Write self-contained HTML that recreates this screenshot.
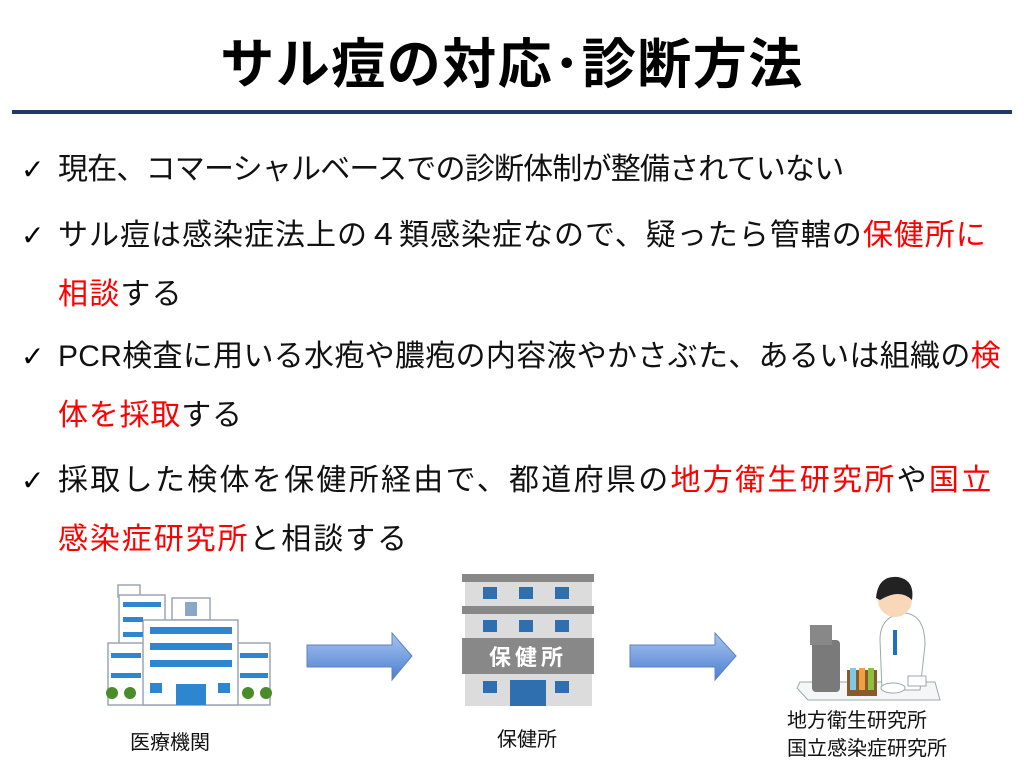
<!DOCTYPE html>
<html><head><meta charset="utf-8"><style>
body{margin:0;width:1024px;height:768px;background:#fff;position:relative;overflow:hidden;font-family:"Liberation Sans","Noto Sans CJK JP",sans-serif;}
h1{position:absolute;left:0;width:1024px;top:29px;margin:0;text-align:center;font-size:54px;letter-spacing:1.5px;font-weight:bold;line-height:72px;font-family:"Liberation Sans","Noto Sans CJK JP",sans-serif;}
.rule{position:absolute;left:12px;width:1000px;top:110px;height:4px;background:#1f3a68;}
.l{position:absolute;left:58px;font-size:30px;line-height:40px;white-space:nowrap;color:#111;}
.c{position:absolute;left:21px;font-size:28px;line-height:40px;font-weight:bold;font-family:"DejaVu Sans",sans-serif;}
.r{color:#f00;}
.lab{position:absolute;font-size:20px;line-height:26px;white-space:nowrap;color:#111;}
</style></head><body>
<h1>サル痘の対応･診断方法</h1>
<div class="rule"></div>
<div class="c" style="top:150px">✓</div><div class="l" style="top:150px;letter-spacing:-0.8px">現在、コマーシャルベースでの診断体制が整備されていない</div>
<div class="c" style="top:216px">✓</div><div class="l" style="top:216px;letter-spacing:1px">サル痘は感染症法上の４類感染症なので、疑ったら管轄の<span class="r">保健所に</span></div>
<div class="l" style="top:275px;letter-spacing:1.2px"><span class="r">相談</span>する</div>
<div class="c" style="top:337px">✓</div><div class="l" style="top:337px;letter-spacing:0.3px">PCR検査に用いる水疱や膿疱の内容液やかさぶた、あるいは組織の<span class="r">検</span></div>
<div class="l" style="top:396px;letter-spacing:0.8px"><span class="r">体を採取</span>する</div>
<div class="c" style="top:461px">✓</div><div class="l" style="top:461px;letter-spacing:2.3px">採取した検体を保健所経由で、都道府県の<span class="r">地方衛生研究所</span>や<span class="r">国立</span></div>
<div class="l" style="top:520px;letter-spacing:1.9px"><span class="r">感染症研究所</span>と相談する</div>

<svg width="1024" height="768" style="position:absolute;left:0;top:0">
<defs><linearGradient id="g" x1="0" y1="0" x2="0" y2="1"><stop offset="0" stop-color="#a9c4ef"/><stop offset="1" stop-color="#4a7fd0"/></linearGradient></defs>
<!-- hospital -->
<g stroke="#9aa5b5" stroke-width="1.5" fill="#fff">
<rect x="118" y="585" width="22" height="12"/>
<rect x="119" y="595" width="46" height="55"/>
<rect x="172" y="598" width="38" height="22"/>
<rect x="108" y="643" width="162" height="62"/>
<rect x="143" y="620" width="95" height="85"/>
</g>
<rect x="185" y="602" width="12" height="14" fill="#8aa6c8"/>
<g fill="#2f86d0">
<rect x="123" y="602" width="38" height="5"/><rect x="123" y="617" width="20" height="5"/><rect x="123" y="632" width="20" height="5"/>
<rect x="150" y="627" width="82" height="7"/><rect x="150" y="643" width="82" height="7"/><rect x="150" y="660" width="82" height="7"/>
<rect x="111" y="653" width="30" height="5"/><rect x="111" y="673" width="30" height="5"/>
<rect x="240" y="653" width="28" height="5"/><rect x="240" y="673" width="28" height="5"/>
<rect x="150" y="683" width="12" height="10"/><rect x="218" y="683" width="12" height="10"/>
<rect x="176" y="684" width="30" height="21"/>
</g>
<g fill="#4a8c2a"><circle cx="112" cy="693" r="6"/><circle cx="130" cy="693" r="6"/><circle cx="248" cy="693" r="6"/><circle cx="266" cy="693" r="6"/></g>
<!-- arrows -->
<path d="M307 645 H392 V633 L412 656 L392 680 V667 H307 Z" fill="url(#g)" stroke="#5b84c4"/>
<path d="M630 645 H715 V633 L736 656 L715 680 V667 H630 Z" fill="url(#g)" stroke="#5b84c4"/>
<!-- health center -->
<rect x="465" y="578" width="127" height="128" fill="#dcdcdc"/>
<rect x="462" y="574" width="132" height="8" fill="#888"/>
<rect x="462" y="606" width="132" height="8" fill="#888"/>
<rect x="462" y="638" width="132" height="36" fill="#888"/>
<text x="528" y="665" font-size="22" font-weight="bold" fill="#fff" text-anchor="middle" font-family="Liberation Sans,Noto Sans CJK JP,sans-serif" letter-spacing="4">保健所</text>
<g fill="#2f6fb0">
<rect x="483" y="587" width="14" height="12"/><rect x="519" y="587" width="14" height="12"/><rect x="555" y="587" width="14" height="12"/>
<rect x="483" y="620" width="14" height="12"/><rect x="519" y="620" width="14" height="12"/><rect x="555" y="620" width="14" height="12"/>
<rect x="483" y="681" width="14" height="12"/><rect x="555" y="681" width="14" height="12"/>
<rect x="510" y="680" width="36" height="26"/>
</g>
<!-- lab -->
<path d="M797 688 L808 700 H940 L935 682 H800 Z" fill="#f4f6f8" stroke="#9aa" />
<rect x="812" y="640" width="28" height="52" rx="4" fill="#7a7a7a"/>
<rect x="810" y="625" width="22" height="20" fill="#888"/>
<rect x="847" y="670" width="30" height="26" fill="#8a5a2a"/>
<rect x="850" y="668" width="6" height="22" fill="#7fc8e8"/><rect x="859" y="668" width="6" height="22" fill="#f0a040"/><rect x="868" y="668" width="6" height="22" fill="#8cc040"/>
<path d="M880 640 Q880 615 905 613 Q925 615 925 645 L920 690 H882 Z" fill="#fff" stroke="#9aa"/>
<circle cx="895" cy="600" r="17" fill="#f8d8b8"/>
<path d="M876 598 Q878 575 898 577 Q915 580 912 600 Q900 588 880 600 Z" fill="#222"/>
<rect x="893" y="630" width="4" height="25" fill="#2070c0"/>
<ellipse cx="893" cy="688" rx="12" ry="5" fill="#fff" stroke="#9aa"/>
<rect x="908" y="676" width="18" height="10" fill="#fff" stroke="#9aa"/>
</svg>
<div class="lab" style="left:130px;top:730px">医療機関</div>
<div class="lab" style="left:497px;top:727px">保健所</div>
<div class="lab" style="left:787px;top:708px">地方衛生研究所</div>
<div class="lab" style="left:787px;top:736px">国立感染症研究所</div>
</body></html>
